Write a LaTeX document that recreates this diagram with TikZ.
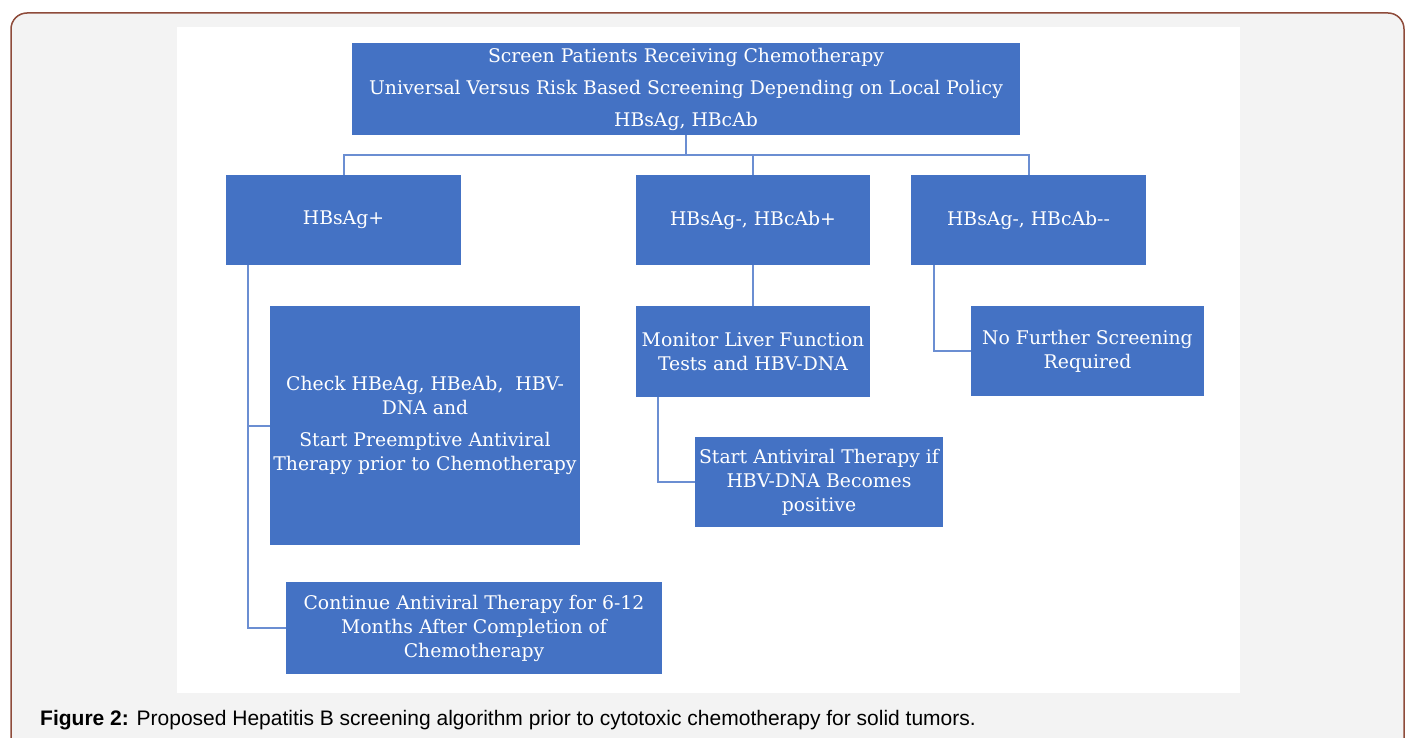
\documentclass[tikz,border=0pt]{standalone}
\usepackage{fontspec}
\usepackage{xcolor}
\newfontfamily\boxfont{DejaVu Serif}
\newfontfamily\capfont{Liberation Sans}
\definecolor{boxblue}{HTML}{4472C4}
\definecolor{linkblue}{HTML}{6B8ED2}
\definecolor{framebrown}{HTML}{8E4B3A}
\definecolor{panelgrey}{HTML}{F3F3F3}

\begin{document}
\begin{tikzpicture}[x=1pt,y=-1pt]
		\tikzstyle{stepbox} = [rectangle,fill=boxblue,text=white,align=center,inner sep=0pt,font=\boxfont\fontsize{18.8}{24}\selectfont]
		\tikzstyle{link} = [draw=linkblue,line width=2pt]
		\clip (0,0) rectangle (1406,738);
		\draw[framebrown,fill=panelgrey,line width=1.5pt,rounded corners=16pt] (11,13) rectangle (1404,790);
		\fill[white] (177,27) rectangle (1240,693);
		\node[stepbox,minimum width=668pt,minimum height=92pt,font=\boxfont\fontsize{18.8}{32}\selectfont] (screen) at (686,89) {Screen Patients Receiving Chemotherapy\\Universal Versus Risk Based Screening Depending on Local Policy\\HBsAg, HBcAb};
		\node[stepbox,minimum width=235pt,minimum height=90pt] (sagpos) at (343.5,220) {HBsAg+};
		\node[stepbox,minimum width=234pt,minimum height=90pt] (cabpos) at (753,220) {HBsAg-, HBcAb+};
		\node[stepbox,minimum width=235pt,minimum height=90pt] (bothneg) at (1028.5,220) {HBsAg-, HBcAb--};
		\node[stepbox,minimum width=310pt,minimum height=239pt] (check) at (425,425.5) {Check HBeAg, HBeAb,~ HBV-\\DNA and\\[8pt]Start Preemptive Antiviral\\Therapy prior to Chemotherapy};
		\node[stepbox,minimum width=376pt,minimum height=92pt] (cont) at (474,628) {Continue Antiviral Therapy for 6-12\\Months After Completion of\\Chemotherapy};
		\node[stepbox,minimum width=234pt,minimum height=91pt] (monitor) at (753,351.5) {Monitor Liver Function\\Tests and HBV-DNA};
		\node[stepbox,minimum width=248pt,minimum height=90pt] (startav) at (819,482) {Start Antiviral Therapy if\\HBV-DNA Becomes\\positive};
		\node[stepbox,minimum width=233pt,minimum height=90pt] (nofurther) at (1087.5,351) {No Further Screening\\Required};
		\coordinate (bus) at (686,155);
		\draw[link] (screen.south) -- (bus);
		\draw[link] (sagpos.north) |- (bus) -| (bothneg.north);
		\draw[link] (bus) -| (cabpos.north);
		\draw[link] ([xshift=22pt]sagpos.south west) |- (check.west);
		\draw[link] ([xshift=22pt]sagpos.south west) |- (cont.west);
		\draw[link] (cabpos.south) -- (monitor.north);
		\draw[link] ([xshift=22pt]monitor.south west) |- (startav.west);
		\draw[link] ([xshift=23pt]bothneg.south west) |- (nofurther.west);
		\node[anchor=base west,inner sep=0pt,font=\capfont\fontsize{21}{24}\selectfont] (caption) at (40,725) {\textbf{Figure 2:} Proposed Hepatitis B screening algorithm prior to cytotoxic chemotherapy for solid tumors.};
		\end{tikzpicture}
\end{document}
